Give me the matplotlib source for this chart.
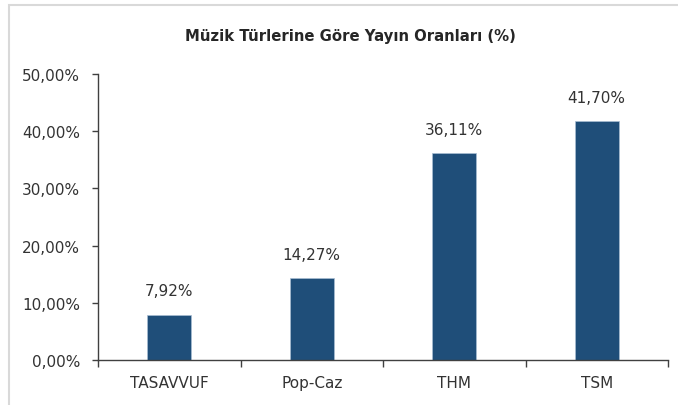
import matplotlib
matplotlib.use('Agg')
import matplotlib.pyplot as plt
from matplotlib.patches import Rectangle

categories = ['TASAVVUF', 'Pop-Caz', 'THM', 'TSM']
values = [7.92, 14.27, 36.11, 41.70]
yticks = [0, 10, 20, 30, 40, 50]
title = 'Müzik Türlerine Göre Yayın Oranları (%)'


def tr_pct(v):
    return f'{v:.2f}'.replace('.', ',') + '%'


plt.rcParams['font.family'] = ['DejaVu Sans']

fig = plt.figure(figsize=(6.78, 4.06), dpi=100)
ax = fig.add_axes([98 / 678, 1 - 361 / 406, 570 / 678, 286 / 406])

# light frame of the chart area (cropped on right and bottom)
fig.patches.append(Rectangle((9 / 678, -0.1), 1.2, 1.1 - 6 / 406, transform=fig.transFigure,
                             fill=False, edgecolor='#d9d9d9', linewidth=1.5))

x = list(range(len(categories)))
bars = ax.bar(x, values, width=0.31, color='#1f4e79', edgecolor='#a9bdd3', linewidth=0.5)

for xi, v in zip(x, values):
    ax.annotate(tr_pct(v), (xi, v), xytext=(0, 12), textcoords='offset points',
                ha='center', va='bottom', fontsize=11, color='#333333')

ax.set_xlim(-0.5, len(categories) - 0.5)
ax.set_ylim(0, 50)
ax.set_yticks(yticks)
ax.set_yticklabels([tr_pct(t) for t in yticks], fontsize=11, color='#333333')
ax.set_xticks(x)
ax.set_xticklabels(categories, fontsize=11, color='#333333')
ax.tick_params(axis='x', length=0, pad=11)
ax.tick_params(axis='y', length=4, width=1, color='#404040', pad=9)
# minor ticks between categories on x axis
ax.set_xticks([i + 0.5 for i in range(-1, len(categories))], minor=True)
ax.tick_params(axis='x', which='minor', length=5, width=1, color='#404040')

for s in ['top', 'right']:
    ax.spines[s].set_visible(False)
for s in ['left', 'bottom']:
    ax.spines[s].set_color('#404040')
    ax.spines[s].set_linewidth(1)

fig.text(350 / 678, 1 - 37 / 406, title, ha='center', va='center', fontsize=10.7,
         fontweight='bold', color='#262626')

plt.savefig('out.png', dpi=100)
